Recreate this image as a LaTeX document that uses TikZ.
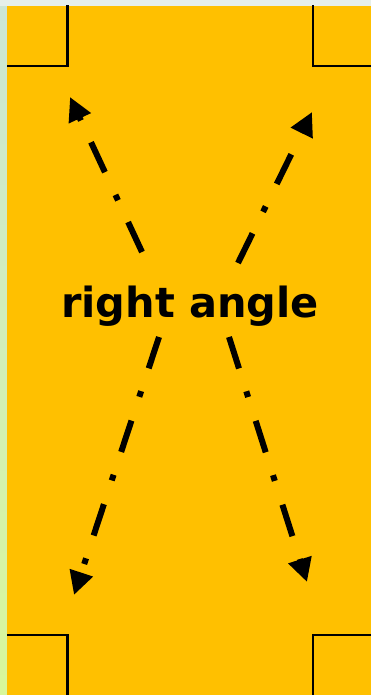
\documentclass[tikz,border=0pt]{standalone}
\usepackage{fontspec}
\newfontfamily\labfont{DejaVu Sans}
\usetikzlibrary{arrows.meta}
\definecolor{gold}{HTML}{FFC000}
\definecolor{stripT}{HTML}{CCE6D6}
\definecolor{stripM}{HTML}{92CC94}
\definecolor{stripB}{HTML}{D8F79A}
\definecolor{topstrip}{HTML}{E6EFEA}
\tikzset{
  cornersq/.style={draw=black, line width=2.2pt, minimum size=62pt, inner sep=0pt, fill=none},
  arr/.style={line width=6pt, dash pattern=on 33pt off 24pt on 6pt off 25pt,
     -{Triangle[length=23.5pt,width=23pt]}},
  lbl/.style={font=\labfont\bfseries\fontsize{41.5}{50}\selectfont, inner sep=0pt, anchor=base}
}
\begin{document}
\begin{tikzpicture}[x=1pt,y=-1pt]
\useasboundingbox (0,0) rectangle (371,695);
\shade[top color=stripT, middle color=stripM, bottom color=stripB] (0,0) rectangle (7.5,695);
\fill[topstrip] (0,0) rectangle (371,6);
\fill[gold] (7,6) rectangle (371,695);
\begin{scope}
  \clip (7,6) rectangle (371,695);
  \node[cornersq] (sqtl) at (36.5,35) {};
  \node[cornersq] (sqtr) at (344,35) {};
  \node[cornersq] (sqbl) at (36.5,666) {};
  \node[cornersq] (sqbr) at (344,666) {};
\end{scope}
\node[lbl] (label) at (190,317) {right angle};
\coordinate (tlS) at (142,252);
\coordinate (tlE) at (70,97);
\coordinate (trS) at (238,263);
\coordinate (trE) at (312,112);
\coordinate (blS) at (159,337);
\coordinate (blE) at (74,595);
\coordinate (brS) at (229,337);
\coordinate (brE) at (307,582);
\draw[arr] (tlS) -- (tlE);
\draw[arr] (trS) -- (trE);
\draw[arr] (blS) -- (blE);
\draw[arr] (brS) -- (brE);
\end{tikzpicture}
\end{document}
